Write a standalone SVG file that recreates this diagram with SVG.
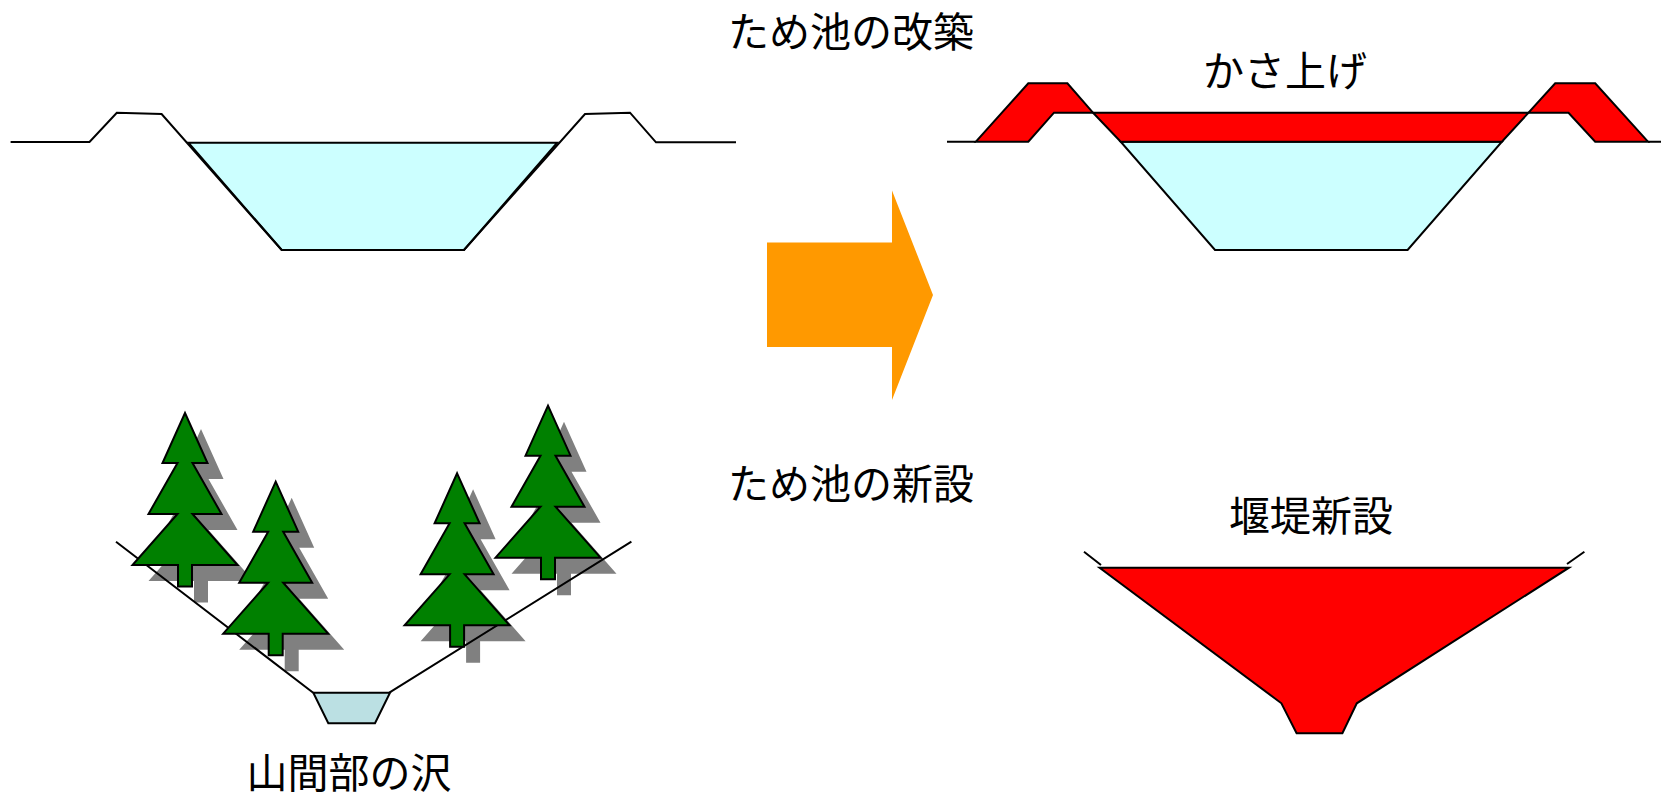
<svg xmlns="http://www.w3.org/2000/svg" width="1661" height="798" viewBox="0 0 1661 798">
  <style>
    .line { fill: none; stroke: #000; stroke-width: 2; stroke-linejoin: miter; }
    .water { fill: #CCFFFF; stroke: #000; stroke-width: 2; }
    .stream { fill: #BBE0E3; stroke: #000; stroke-width: 2; }
    .fill-red { fill: #FF0000; stroke: #000; stroke-width: 2; stroke-linejoin: miter; }
    .tree { fill: #008000; stroke: #000; stroke-width: 2; stroke-linejoin: miter; }
    .shadow { fill: #808080; }
    .label { font-family: "Noto Sans CJK JP", "Noto Sans", sans-serif; font-size: 41px; fill: #000; text-anchor: middle; }
  </style>
  <defs>
    <!-- conifer outline, apex at origin -->
    <path id="conifer" d="M0,0 L22.5,50 L7.5,50 L36.5,101 L7.5,101 L52.5,152 L7,152 L7,173.5 L-7,173.5 L-7,152 L-52.5,152 L-7.5,101 L-36.5,101 L-7.5,50 L-22.5,50 Z"/>
  </defs>
  <rect width="1661" height="798" fill="#FFFFFF"/>

  <!-- existing pond cross-section -->
  <g id="pond-existing">
    <polygon class="water" points="188.4,142.7 557.2,142.7 464,250 281.7,250"/>
    <path class="line" d="M10.6,142 L89.5,142 L116.8,112.7 L161.6,114 L281.7,250 L464,250 L585,114 L630,112.7 L656,142.3 L736,142.3"/>
  </g>

  <!-- raised pond cross-section -->
  <g id="pond-raised">
    <path class="line" d="M947,141.7 L976,141.7 M1648,141.7 L1661,141.7"/>
    <polygon class="water" points="1120.7,141.7 1501.9,141.7 1407.6,250 1215,250"/>
    <polygon class="fill-red" points="1093,112.7 1528.5,112.7 1501.9,141.7 1120.7,141.7"/>
    <polygon class="fill-red" points="975.9,141.7 1028.3,83.3 1067.4,83.3 1093,112.7 1054,112.7 1028.3,141.7"/>
    <polygon class="fill-red" points="1528.5,112.7 1555.2,83.3 1595.2,83.3 1648,141.7 1595.2,141.7 1568.5,112.7"/>
  </g>

  <!-- block arrow -->
  <g id="arrow">
    <polygon fill="#FF9900" points="767,242.5 892,242.5 892,190.5 933,295 892,400 892,347 767,347"/>
  </g>

  <!-- mountain valley with trees -->
  <g id="valley">
    <g id="tree-shadows" class="shadow">
      <use href="#conifer" x="201" y="429"/>
      <use href="#conifer" x="291.7" y="497.7"/>
      <use href="#conifer" x="473.1" y="489.3"/>
      <use href="#conifer" x="564" y="421.7"/>
    </g>
    <path class="line" d="M116,541.7 L313.2,692.7 M389.3,692.7 L631.4,541.7"/>
    <polygon class="stream" points="313.3,692.7 390,692.7 375,723.3 328.3,723.3"/>
    <g id="trees" class="tree">
      <use href="#conifer" x="185" y="413"/>
      <use href="#conifer" x="275.7" y="481.7"/>
      <use href="#conifer" x="457.1" y="473.3"/>
      <use href="#conifer" x="548" y="405.7"/>
    </g>
  </g>

  <!-- new dam cross-section -->
  <g id="dam-new">
    <path class="line" d="M1084,551.7 L1101,565 M1584.4,551.7 L1567,564"/>
    <polygon class="fill-red" points="1099.6,567.7 1569,567.7 1356.8,703.3 1342.4,733.3 1296.6,733.3 1281.4,703.3"/>
  </g>

  <!-- labels -->
  <g id="labels">
    <text class="label" x="851" y="47">ため池の改築</text>
    <text class="label" x="1285" y="86">かさ上げ</text>
    <text class="label" x="851" y="499">ため池の新設</text>
    <text class="label" x="1311" y="531">堰堤新設</text>
    <text class="label" x="349" y="788">山間部の沢</text>
  </g>
</svg>
